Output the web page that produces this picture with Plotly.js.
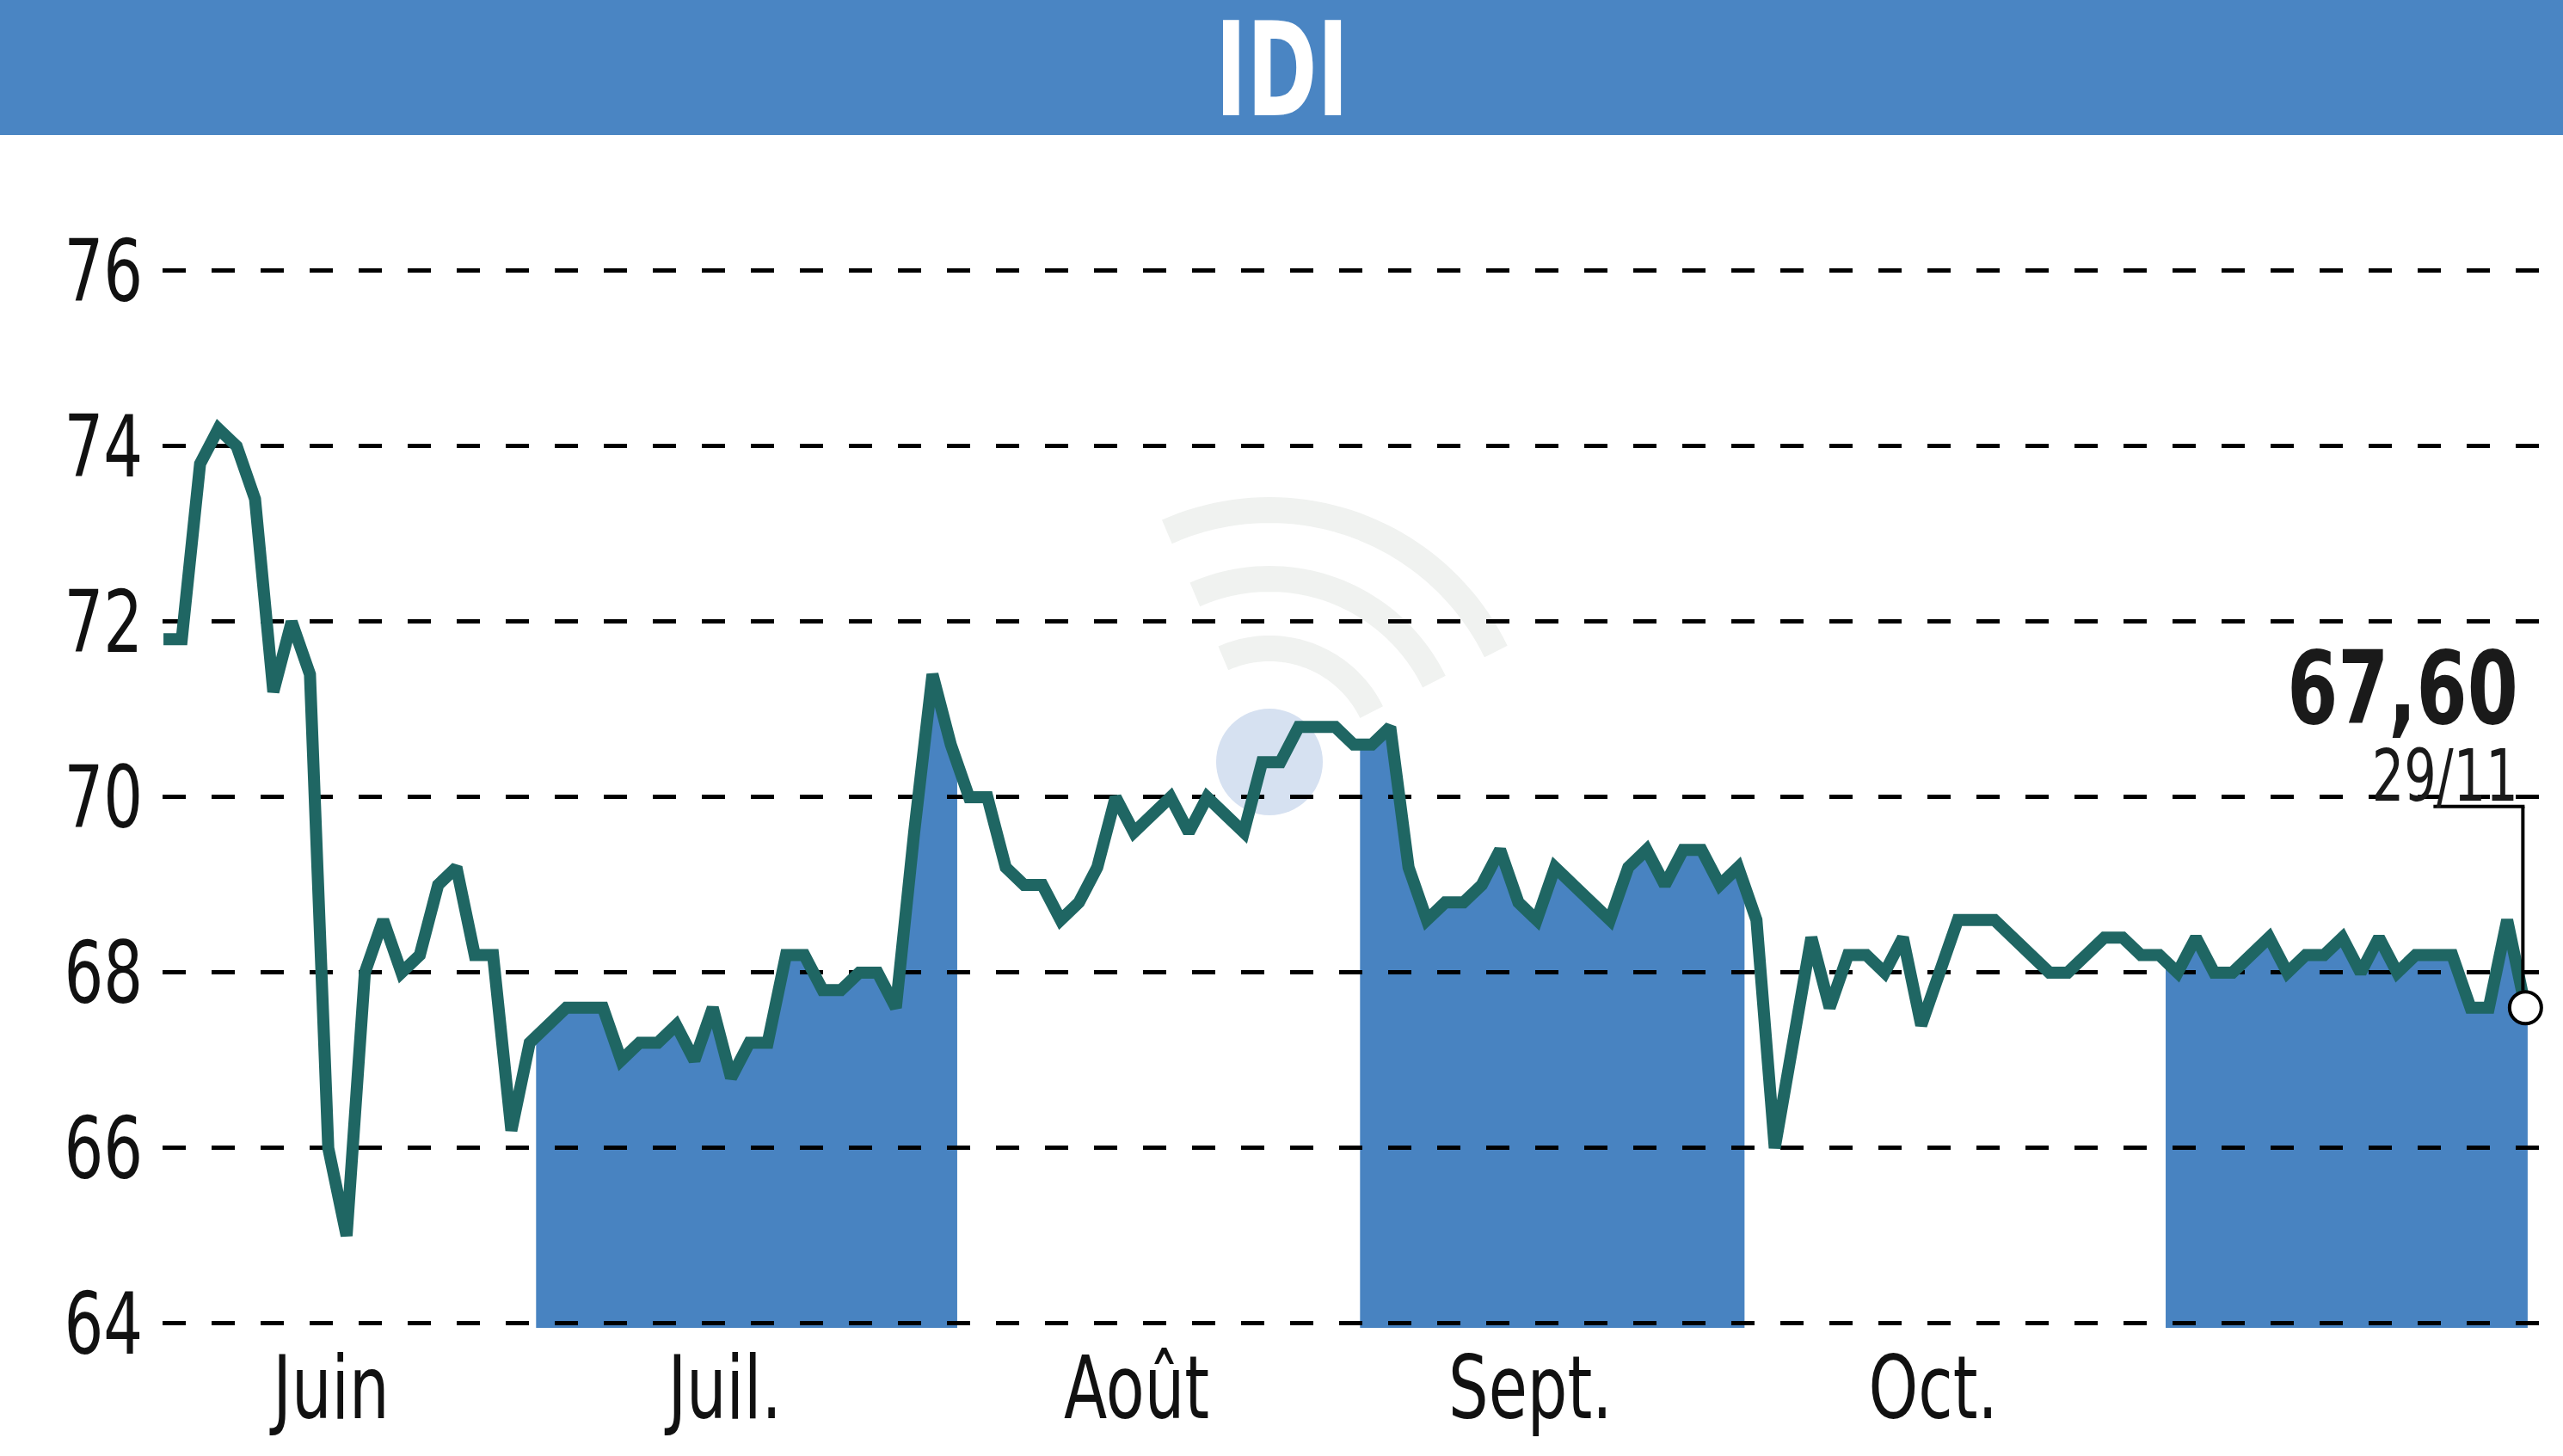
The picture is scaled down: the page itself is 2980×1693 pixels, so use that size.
<!DOCTYPE html>
<html>
<head>
<meta charset="utf-8">
<script src="https://cdn.plot.ly/plotly-3.0.1.min.js"></script>
<style>
html,body{margin:0;padding:0;background:#ffffff;}
#chart{width:2980px;height:1693px;}
</style>
</head>
<body>
<div id="chart"></div>
<script>
// ---- DATA ----
const stockName = 'IDI';
const prices = [
  // June
  71.8, 71.8, 73.8, 74.2, 74.0, 73.4, 71.2, 72.0, 71.4, 66.0,
  65.0, 68.0, 68.6, 68.0, 68.2, 69.0, 69.2, 68.2, 68.2, 66.2,
  // July
  67.2, 67.4, 67.6, 67.6, 67.6, 67.0, 67.2, 67.2, 67.4, 67.0,
  67.6, 66.8, 67.2, 67.2, 68.2, 68.2, 67.8, 67.8, 68.0, 68.0,
  67.6, 69.6, 71.4,
  // August
  70.6, 70.0, 70.0, 69.2, 69.0, 69.0, 68.6, 68.8, 69.2, 70.0,
  69.6, 69.8, 70.0, 69.6, 70.0, 69.8, 69.6, 70.4, 70.4, 70.8,
  70.8, 70.8,
  // September
  70.6, 70.6, 70.8, 69.2, 68.6, 68.8, 68.8, 69.0, 69.4, 68.8,
  68.6, 69.2, 69.0, 68.8, 68.6, 69.2, 69.4, 69.0, 69.4, 69.4,
  69.0,
  // October
  69.2, 68.6, 66.0, 67.2, 68.4, 67.6, 68.2, 68.2, 68.0, 68.4,
  67.4, 68.0, 68.6, 68.6, 68.6, 68.4, 68.2, 68.0, 68.0, 68.2,
  68.4, 68.4, 68.2,
  // November
  68.2, 68.0, 68.4, 68.0, 68.0, 68.2, 68.4, 68.0, 68.2, 68.2,
  68.4, 68.0, 68.4, 68.0, 68.2, 68.2, 68.2, 67.6, 67.6, 68.6,
  67.6
];
const monthLabels = ['Juin', 'Juil.', 'Août', 'Sept.', 'Oct.'];
const monthStartIdx = [0, 20, 43, 65, 86, 109];   // first trading day of each month
const shadedMonths = [1, 3, 5];                    // Juil., Sept., Nov.
const yTicks = [64, 66, 68, 70, 72, 74, 76];
const lastDate = '29/11';

// ---- STYLE / LAYOUT ----
const W = 2980, H = 1693;
const M = {l: 189, r: 0, t: 250, b: 149};
const plotW = W - M.l - M.r, plotH = H - M.t - M.b;
const xRange = [-0.05, 131.05];
const yRange = [63.95, 76.637];
const pxPerX = plotW / (xRange[1] - xRange[0]);
const pxPerY = plotH / (yRange[1] - yRange[0]);
const FONT = 'DejaVu Sans Condensed, Liberation Sans Narrow, sans-serif';
const BLUE = '#4A85C3';
const FILLBLUE = '#4883C1';
const LINE = '#1F6663';
const SHADE_SHIFT = 0.35;

const px2paperX = px => (px - M.l) / plotW;
const px2paperY = py => (H - M.b - py) / plotH;

const idx = prices.map((_, i) => i);
const last = prices.length - 1;
function valAt(t) {
  if (t <= 0) return prices[0];
  if (t >= last) return prices[last];
  const i = Math.floor(t), f = t - i;
  return prices[i] + (prices[i + 1] - prices[i]) * f;
}

const shapes = [];

// header band
shapes.push({type: 'rect', xref: 'paper', yref: 'paper', layer: 'above',
  x0: px2paperX(0), x1: px2paperX(W), y0: px2paperY(157), y1: px2paperY(0),
  fillcolor: BLUE, line: {width: 0}});

// watermark (decorative)
(function () {
  const cx = 1476, cy = 886;
  [132, 213, 293].forEach(r => {
    let p = '';
    for (let a = 26; a <= 114; a += 2) {
      const t = a * Math.PI / 180;
      const x = px2paperX(cx + r * Math.cos(t));
      const y = px2paperY(cy - r * Math.sin(t));
      p += (p ? ' L ' : 'M ') + x + ',' + y;
    }
    shapes.push({type: 'path', xref: 'paper', yref: 'paper', layer: 'below',
      path: p, line: {color: '#f0f2f0', width: 30}, opacity: 1});
  });
  shapes.push({type: 'circle', xref: 'paper', yref: 'paper', layer: 'below',
    x0: px2paperX(cx - 62), x1: px2paperX(cx + 62),
    y0: px2paperY(cy + 62), y1: px2paperY(cy - 62),
    fillcolor: '#d6e1f1', line: {width: 0}, opacity: 1});
})();

// shaded months: area under the price line down to the axis floor
shadedMonths.forEach(m => {
  const s = monthStartIdx[m] + SHADE_SHIFT;
  const nxt = m + 1 < monthStartIdx.length ? monthStartIdx[m + 1] + SHADE_SHIFT : last + 0.12;
  const e = Math.min(nxt, last + 0.12);
  let p = 'M ' + s + ',' + yRange[0] + ' L ' + s + ',' + valAt(s);
  for (let i = Math.ceil(s); i <= Math.floor(Math.min(e, last)); i++) p += ' L ' + i + ',' + prices[i];
  p += ' L ' + e + ',' + valAt(e) + ' L ' + e + ',' + yRange[0] + ' Z';
  shapes.push({type: 'path', xref: 'x', yref: 'y', layer: 'below',
    path: p, fillcolor: FILLBLUE, line: {width: 0}});
});

// leader line from the last point up to the value label
const lx = last, ly = prices[last];
const hy = ly + 234 / pxPerY;
shapes.push({type: 'line', xref: 'x', yref: 'y', layer: 'above',
  x0: lx - 107 / pxPerX, x1: lx - 1 / pxPerX, y0: hy, y1: hy,
  line: {color: '#000000', width: 4}});
shapes.push({type: 'line', xref: 'x', yref: 'y', layer: 'above',
  x0: lx - 3 / pxPerX, x1: lx - 3 / pxPerX, y0: hy, y1: ly + 20 / pxPerY,
  line: {color: '#000000', width: 4}});

// month tick positions (label centred slightly left of month middle)
const tickVals = monthLabels.map((_, k) => (monthStartIdx[k] + monthStartIdx[k + 1]) / 2 - 0.85);

const traces = [
  {x: idx, y: prices, type: 'scatter', mode: 'lines',
   line: {color: LINE, width: 14}, hoverinfo: 'skip', cliponaxis: true},
  {x: [last], y: [prices[last]], type: 'scatter', mode: 'markers',
   marker: {size: 37, color: '#ffffff', line: {color: '#000000', width: 4}},
   hoverinfo: 'skip', cliponaxis: false}
];

const layout = {
  width: W, height: H, autosize: false,
  margin: {l: M.l, r: M.r, t: M.t, b: M.b, pad: 0},
  paper_bgcolor: '#ffffff', plot_bgcolor: '#ffffff',
  showlegend: false,
  font: {family: FONT, color: '#111111'},
  xaxis: {range: xRange, showgrid: false, zeroline: false, showline: false,
    tickmode: 'array', tickvals: tickVals, ticktext: monthLabels,
    ticks: '', ticklabelstandoff: 2,
    tickfont: {family: FONT, size: 102, color: '#111111'}, fixedrange: true},
  yaxis: {range: yRange, showgrid: true, zeroline: false, showline: false,
    gridcolor: '#000000', gridwidth: 5, griddash: '27px,30px',
    tickmode: 'array', tickvals: yTicks, ticktext: yTicks.map(String),
    ticks: '', ticklabelstandoff: 22,
    tickfont: {family: FONT, size: 100, color: '#111111'}, fixedrange: true},
  shapes: shapes,
  annotations: [
    {name: 'title', xref: 'paper', yref: 'paper', x: px2paperX(W / 2), y: px2paperY(81),
     xanchor: 'center', yanchor: 'middle', showarrow: false,
     text: '<b>' + stockName + '</b>', font: {family: FONT, size: 152, color: '#ffffff'}},
    {xref: 'x', yref: 'y', x: lx, y: ly, xanchor: 'right', yanchor: 'middle',
     xshift: -6, yshift: 372, showarrow: false,
     text: '<b>' + prices[last].toFixed(2).replace('.', ',') + '</b>',
     font: {family: FONT, size: 118, color: '#1a1a1a'}},
    {xref: 'x', yref: 'y', x: lx, y: ly, xanchor: 'right', yanchor: 'middle',
     xshift: -6, yshift: 270, showarrow: false, text: lastDate,
     font: {family: FONT, size: 84, color: '#1a1a1a'}}
  ]
};

// horizontally condense text (the reference uses a condensed typeface)
function condense(el, f, keepRight) {
  const L = el.getComputedTextLength();
  if (!L) return;
  if (keepRight) {
    const x0 = parseFloat(el.getAttribute('x') || '0');
    const anchor = el.getAttribute('text-anchor') || 'start';
    let right = x0 + L / 2;
    if (anchor === 'end') right = x0;
    if (anchor === 'start') right = x0 + L;
    el.setAttribute('text-anchor', 'end');
    el.setAttribute('x', right);
  }
  el.setAttribute('textLength', (L * f).toFixed(1));
  el.setAttribute('lengthAdjust', 'spacingAndGlyphs');
}

Plotly.newPlot('chart', traces, layout, {staticPlot: true, displayModeBar: false}).then(gd => {
  gd.querySelectorAll('.ytick text').forEach(el => condense(el, 0.8, false));
  gd.querySelectorAll('.xtick text').forEach(el => condense(el, 0.8, false));
  const ann = gd.querySelectorAll('.annotation-text');
  if (ann[0]) condense(ann[0], 0.72, false);
  if (ann[1]) condense(ann[1], 0.8, true);
  if (ann[2]) condense(ann[2], 0.78, true);
});
</script>
</body>
</html>
